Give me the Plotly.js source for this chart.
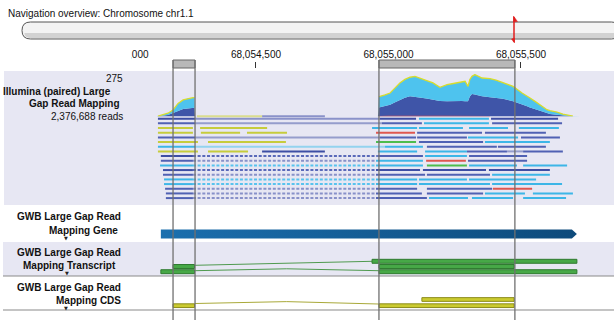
<!DOCTYPE html>
<html><head><meta charset="utf-8">
<script src="https://cdn.plot.ly/plotly-3.0.1.min.js"></script>
<style>html,body{margin:0;padding:0;background:#fff;}#chart{width:614px;height:320px;}</style>
</head><body><div id="chart"></div>
<script>
// ---------- DATA (positions are bp offsets from origin) ----------
const origin = 68054000;
const viewStart = 68053534, viewEnd = 68055851;
const tickStep = 500;
const covMax = 275;
const readCount = '2,376,688 reads';

// exons (top boxes / guide lines)
const exonStart = [187, 964];
const exonEnd   = [270, 1477];

// coverage profile
const covPos   = [126,130,168,187,206,225,243,262,268,270, 960,964,968,987,1006,1025,1043,1062,1081,1100, 1119,1130,1149,1168,1194,1221,1240,1258,1277,1289, 1300,1307,1315,1326,1353,1383,1406,1432,1470,1504, 1523,1534,1553,1572,1598,1609,1636,1658,1674,1696, 1723];
const covTotal = [0,3,21,42,85,107,116,122,122,0, 0,128,131,140,152,185,217,240,254,260, 248,238,228,217,189,206,212,217,222,228, 195,240,260,271,249,245,235,217,195,152, 135,120,98,76,44,38,29,16,8,2, 0];
const covDark  = [0,2,10,21,36,49,54,57,57,0, 0,58,60,68,76,92,109,122,131,128, 124,120,115,109,100,98,100,102,100,99, 98,130,146,143,131,125,120,115,98,80, 66,58,46,34,22,16,10,5,0,0, 0];
const redPos = [964, 1000, 1200, 1383];
const redVal = [4, 5, 5, 4];

// reads: row, start, end, type
const readRow   = [0,0,0,0, 1,1,1,1, 2,2,2,2,2,2, 3,3,3,3,3,3, 4,4,4,4,4, 5,5,5,5,5, 6,6,6,6, 7,7,7,7,7,7,7, 8,8,8,8, 9,9,9,9, 10,10,10,10,10, 11,11,11,11, 12,12,12,12, 13,13,13,13, 14,14,14,14, 15,15,15,15, 16,16,16,16,16, 17,17,17,17,17];
const readStart = [130,968,1115,1387, 130,975,1134,1391, 130,289,938,1115,1304,1492, 130,292,466,953,1108,1364, 130,968,1108,1300,1500, 130,319,953,1115,1364, 130,987,1145,1413, 130,319,523,960,1138,1296,1508, 141,960,1138,1304, 141,953,1142,1300, 138,953,1145,1304,1508, 149,953,1130,1379, 149,953,1145,1391, 153,953,1115,1304, 153,953,1115,1391, 157,953,1145,1394, 160,953,1145,1364,1545, 160,953,1153,1315,1508];
const readEnd   = [270,1104,1379,1640, 270,1126,1379,1655, 262,542,1108,1281,1451,1643, 262,440,617,1100,1353,1594, 270,1104,1296,1489,1647, 281,613,1104,1357,1609, 270,1130,1409,1594, 281,470,760,1108,1296,1447,1658, 262,1130,1296,1523, 262,1130,1292,1523, 262,1130,1296,1485,1674, 262,1119,1368,1609, 262,1138,1383,1609, 262,1108,1296,1557, 262,1108,1383,1655, 262,1108,1391,1542, 262,1126,1357,1515,1696, 262,1145,1300,1470,1670];
const readType  = ['D','D','L','D', 'M','M','L','M', 'Y','Y','L','L','L','L', 'Y','Y','Y','R','M','M', 'M','M','M','L','M', 'Y','Y','G','M','L', 'L','L','M','M', 'Y','Y','D','L','L','M','M', 'D','M','L','M', 'M','L','R','M', 'L','L','G','L','L', 'D','D','D','D', 'M','M','M','L', 'L','L','L','L', 'L','L','L','L', 'M','M','M','R', 'M','M','M','L','L', 'M','M','L','L','L'];

// pair links: faint solid and dashed
const linkRow   = [-0.5,-0.5, 0, 1, 4, 6, 7];
const linkStart = [277, 523, 270, 270, 270, 270, 1447];
const linkEnd   = [523, 760, 968, 975, 968, 987, 1508];
const linkType  = ['Y','D','D','M','M','L','M'];
const dashRow   = [8, 9, 10, 11, 12, 13, 14, 15, 16, 17];
const dashStart = [262,262,262,262,262,262,262,262,262,262];
const dashEnd   = [960,953,953,953,953,953,953,953,953,953];
const dashType  = ['D','M','L','D','M','L','L','M','M','M'];

// gene
const geneStart = 141, geneArrow = 1692, geneEnd = 1711;
// transcripts
const txRow   = [0, 1, 1, 2, 2];
const txStart = [938, 187, 964, 141, 964];
const txEnd   = [1711, 268, 1474, 268, 1711];
const txIntronX = [[268, 938], [268, 616, 964]];
const txIntronY = [[0.77, 0], [1.81, 1.44, 1.81]];
// CDS
const cdsRow   = [0, 1, 1];
const cdsStart = [1126, 187, 964];
const cdsEnd   = [1474, 268, 1474];
const cdsIntronX = [268, 616, 964];
const cdsIntronY = [0.65, 0.34, 0.73];

// ---------- STYLE ----------
const W = 614, H = 320;
const PX = v => v / W, PY = v => 1 - v / H;
const FONT = 'Liberation Sans, Arial, sans-serif';
const readColors = {D:'#3d4ea4', M:'#5061b3', L:'#3db6e7', Y:'#c6cc3c', R:'#df5750', G:'#4dbd4d'};
const linkColors = {D:'#8a92c9', M:'#959dcc', L:'#93d3ef', Y:'#dadd8e'};
const dashColors = {D:'#5a69b9', M:'#8891c9', L:'#58c3ee'};
const bg = '#e7e7f3';

const X = o => origin + o;
const traces = [];

// coverage
traces.push({x: covPos.map(X), y: covDark, yaxis:'y', mode:'lines', line:{width:0}, fill:'tozeroy', fillcolor:'#3f55a8', hoverinfo:'skip'});
traces.push({x: covPos.map(X), y: covTotal, yaxis:'y', mode:'lines', line:{width:0}, fill:'tonexty', fillcolor:'#4ec3ee', hoverinfo:'skip'});
traces.push({x: redPos.map(X), y: redVal, yaxis:'y', mode:'lines', line:{width:0}, fill:'tozeroy', fillcolor:'#e05050', hoverinfo:'skip'});
traces.push({x: covPos.map(X), y: covTotal.map(v => v > 0 ? v : null), yaxis:'y', mode:'lines', line:{width:1.3, color:'#d8dc2c'}, connectgaps:false, hoverinfo:'skip'});

function segs(rows, starts, ends, types, t) {
  const xs = [], ys = [];
  rows.forEach((r, i) => { if (types[i] === t) { xs.push(X(starts[i]), X(ends[i]), null); ys.push(r, r, null); } });
  return {xs, ys};
}
Object.keys(linkColors).forEach(t => {
  const s = segs(linkRow, linkStart, linkEnd, linkType, t);
  if (s.xs.length) traces.push({x:s.xs, y:s.ys, yaxis:'y2', mode:'lines', line:{color:linkColors[t], width:2}, hoverinfo:'skip'});
});
Object.keys(dashColors).forEach(t => {
  const s = segs(dashRow, dashStart, dashEnd, dashType, t);
  if (s.xs.length) traces.push({x:s.xs, y:s.ys, yaxis:'y2', mode:'lines', line:{color:dashColors[t], width:2, dash:'3px,1.7px'}, hoverinfo:'skip'});
});
Object.keys(readColors).forEach(t => {
  const s = segs(readRow, readStart, readEnd, readType, t);
  if (s.xs.length) traces.push({x:s.xs, y:s.ys, yaxis:'y2', mode:'lines', line:{color:readColors[t], width:2}, hoverinfo:'skip'});
});

// gene arrow bar
traces.push({x:[X(geneStart), X(geneArrow), X(geneEnd), X(geneArrow), X(geneStart), X(geneStart)],
  y:[-0.5, -0.5, 0, 0.5, 0.5, -0.5], yaxis:'y3', mode:'lines', line:{width:0}, fill:'toself',
  fillcolor:'#165f97', fillgradient:{type:'horizontal', colorscale:[[0,'#1b6fae'],[1,'#0d4a7b']]}, hoverinfo:'skip'});

function rects(rows, starts, ends, h) {
  const xs = [], ys = [];
  rows.forEach((r, i) => {
    xs.push(X(starts[i]), X(ends[i]), X(ends[i]), X(starts[i]), X(starts[i]), null);
    ys.push(r - h, r - h, r + h, r + h, r - h, null);
  });
  return {xs, ys};
}
// transcript introns + exons
txIntronX.forEach((xx, k) => traces.push({x: xx.map(X), y: txIntronY[k], yaxis:'y4', mode:'lines', line:{color:'#4f9a4f', width:1}, hoverinfo:'skip'}));
const tr = rects(txRow, txStart, txEnd, 0.38);
traces.push({x:tr.xs, y:tr.ys, yaxis:'y4', mode:'lines', fill:'toself', fillcolor:'#47a847', line:{color:'#2f7a2f', width:1}, hoverinfo:'skip'});
// CDS
traces.push({x: cdsIntronX.map(X), y: cdsIntronY, yaxis:'y5', mode:'lines', line:{color:'#a9a93a', width:1}, hoverinfo:'skip'});
const cr = rects(cdsRow, cdsStart, cdsEnd, 0.3);
traces.push({x:cr.xs, y:cr.ys, yaxis:'y5', mode:'lines', fill:'toself', fillcolor:'#cbcb30', line:{color:'#8c8c1a', width:1}, hoverinfo:'skip'});

// ---------- LAYOUT ----------
const shapes = [
  {type:'rect', xref:'paper', yref:'paper', x0:PX(4), x1:1, y0:PY(205), y1:PY(71), fillcolor:bg, line:{width:0}, layer:'below'},
  {type:'rect', xref:'paper', yref:'paper', x0:PX(3), x1:1, y0:PY(276), y1:PY(242), fillcolor:bg, line:{width:0}, layer:'below'},
  {type:'line', xref:'paper', yref:'paper', x0:PX(3), x1:1, y0:PY(276), y1:PY(276), line:{color:'#8a8a8a', width:1.2}, layer:'below'},
  {type:'line', xref:'paper', yref:'paper', x0:PX(3), x1:1, y0:PY(310), y1:PY(310), line:{color:'#8a8a8a', width:1.2}, layer:'below'},
];
// navigation bar
(function(){
  const x0 = 22, x1 = 620, r = 8.5, t = 22, b = 39, m = (t + b) / 2;
  const p = (x, y) => PX(x).toFixed(5) + ',' + PY(y).toFixed(5);
  shapes.push({type:'path', xref:'paper', yref:'paper', fillcolor:'#f3f3f3', line:{color:'#555', width:1},
    path:`M ${p(x0+r,t)} L ${p(x1-r,t)} Q ${p(x1,t)} ${p(x1,m)} Q ${p(x1,b)} ${p(x1-r,b)} L ${p(x0+r,b)} Q ${p(x0,b)} ${p(x0,m)} Q ${p(x0,t)} ${p(x0+r,t)} Z`});
  shapes.push({type:'path', xref:'paper', yref:'paper', fillcolor:'rgba(170,170,170,0.45)', line:{width:0},
    path:`M ${p(24.5,33)} L ${p(x1,33)} L ${p(x1,38.3)} L ${p(x0+r,38.3)} Q ${p(24,37.5)} ${p(24.5,33)} Z`});
  // position marker
  shapes.push({type:'line', xref:'paper', yref:'paper', x0:PX(514), x1:PX(514), y0:PY(17), y1:PY(42), line:{color:'#e01e1e', width:1.5}});
  shapes.push({type:'path', xref:'paper', yref:'paper', fillcolor:'#e01e1e', line:{color:'#e01e1e', width:0.5},
    path:`M ${p(513.5,16)} L ${p(517.5,21.5)} L ${p(513.5,22)} Z`});
  shapes.push({type:'path', xref:'paper', yref:'paper', fillcolor:'#e01e1e', line:{color:'#e01e1e', width:0.5},
    path:`M ${p(511.5,39)} L ${p(514.5,43)} L ${p(514.5,38)} Z`});
})();
// ruler clip mask
shapes.push({type:'rect', xref:'paper', yref:'paper', x0:0, x1:PX(131), y0:PY(70), y1:PY(44), fillcolor:'#fff', line:{width:0}, layer:'above'});
// exon boxes and guide lines
exonStart.forEach((s, i) => {
  shapes.push({type:'rect', xref:'x', yref:'paper', x0:X(s), x1:X(exonEnd[i]), y0:PY(68), y1:PY(60), fillcolor:'#b8b8b8', line:{color:'#666', width:1}, layer:'above'});
  [s, exonEnd[i]].forEach(v => shapes.push({type:'line', xref:'x', yref:'paper', x0:X(v), x1:X(v), y0:0, y1:PY(60), line:{color:'#707070', width:1.3}, layer:'above'}));
});

const ann = (text, x, y, opts = {}) => Object.assign({text, x:PX(x), y:PY(y), xref:'paper', yref:'paper', xanchor:'right', yanchor:'middle', showarrow:false, font:{family:FONT, size:10, color:'#111'}}, opts);
const annotations = [
  ann('Navigation overview: Chromosome chr1.1', 6, 13, {xanchor:'left'}),
  ann(String(covMax), 124.5, 78.3),
  ann('<b>Illumina (paired) Large</b>', 112.5, 91.7),
  ann('<b>Gap Read Mapping</b>', 121.5, 104),
  ann(readCount, 124.5, 116.7),
  ann('<b>GWB Large Gap Read</b>', 122.5, 216.7),
  ann('<b>Mapping Gene</b>', 119.5, 230.7),
  ann('<b>GWB Large Gap Read</b>', 122.5, 252.7),
  ann('<b>Mapping Transcript</b>', 117.5, 265.3),
  ann('<b>GWB Large Gap Read</b>', 122.5, 287.3),
  ann('<b>Mapping CDS</b>', 122.5, 300.7),
  ann('▼', 69.5, 237.5, {font:{family:'DejaVu Sans', size:5, color:'#222'}}),
  ann('▼', 70.5, 272.7, {font:{family:'DejaVu Sans', size:5, color:'#222'}}),
  ann('▼', 69.5, 307.5, {font:{family:'DejaVu Sans', size:5, color:'#222'}}),
];

const hidden = d => ({domain:d, visible:false, fixedrange:true, anchor:'x', showgrid:false, zeroline:false});
const layout = {
  width:W, height:H, margin:{l:0, r:0, t:0, b:0, pad:0},
  paper_bgcolor:'#fff', plot_bgcolor:'rgba(0,0,0,0)', showlegend:false, hovermode:false,
  xaxis:{range:[viewStart, viewEnd], side:'top', anchor:'free', position:PY(67.5), tickmode:'linear', tick0:0, dtick:tickStep,
    tickformat:',d', ticks:'outside', ticklen:6, tickwidth:1, tickcolor:'#333', showgrid:false, zeroline:false, showline:false,
    tickfont:{family:FONT, size:10, color:'#111'}, fixedrange:true},
  yaxis: Object.assign(hidden([PY(116.5), PY(74)]), {range:[0, covMax]}),
  yaxis2: Object.assign(hidden([PY(201), PY(112)]), {range:[17.62, -1.435]}),
  yaxis3: Object.assign(hidden([PY(242), PY(205)]), {range:[0.889, -3.222]}),
  yaxis4: Object.assign(hidden([PY(276), PY(242)]), {range:[2.827, -3.712]}),
  yaxis5: Object.assign(hidden([PY(310), PY(276)]), {range:[1.694, -3.79]}),
  shapes, annotations
};
Plotly.newPlot('chart', traces, layout, {staticPlot:true, displayModeBar:false});
</script></body></html>
